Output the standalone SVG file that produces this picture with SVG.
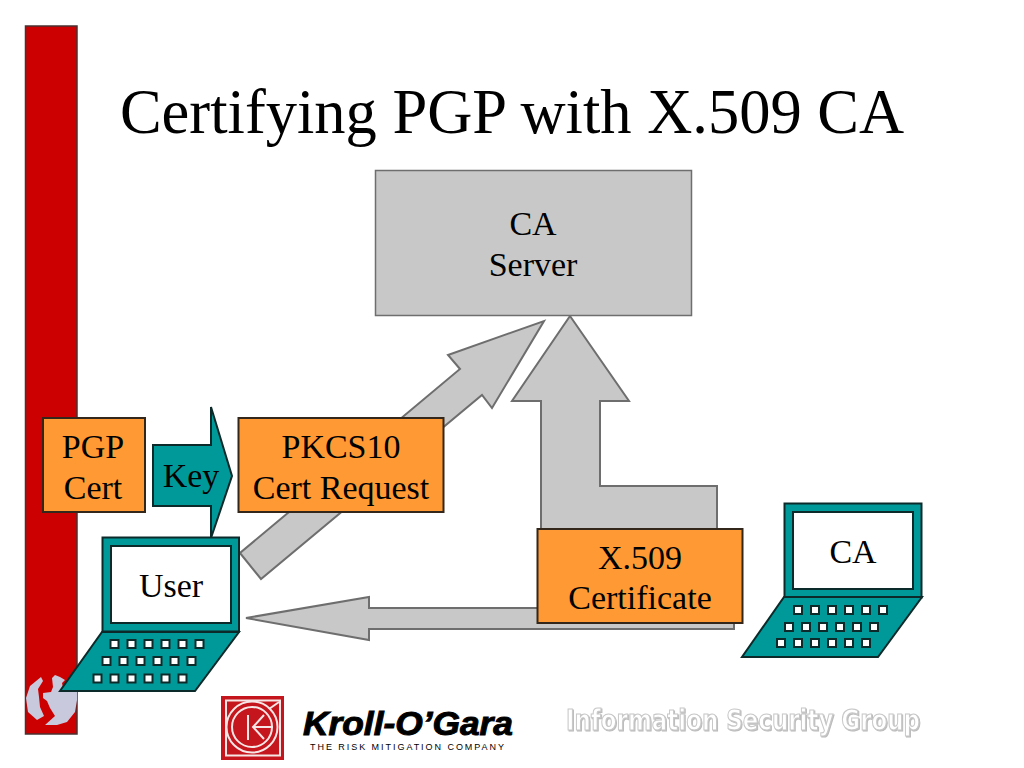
<svg xmlns="http://www.w3.org/2000/svg" width="1024" height="768" viewBox="0 0 1024 768">
<style>
text{font-family:"Liberation Serif","Times New Roman",serif;fill:#000;text-anchor:middle}
.t{font-size:34px}
.title{font-size:62.500px}
.arrow{fill:#c8c8c8;stroke:#6e6e6e;stroke-width:2}
.box{fill:#ff9933;stroke:#33261a;stroke-width:2}
.teal{fill:#009999;stroke:#0d2a2a;stroke-width:2}
.screen{fill:#fff;stroke:#0d2a2a;stroke-width:2}
.key{fill:#fff;stroke:#0d2a2a;stroke-width:2}
.logoline{fill:none;stroke:#f6e6e6;stroke-width:2}
</style>
<defs>
<filter id="emboss" x="-5%" y="-20%" width="110%" height="140%"><feDropShadow dx="1" dy="1" stdDeviation="0.600" flood-color="#bbb"/></filter>
<clipPath id="barclip"><rect x="26" y="660" width="51" height="74"/></clipPath>
<g id="keys">
<rect class="key" x="0" y="0" width="8" height="8"/><rect class="key" x="17" y="0" width="8" height="8"/><rect class="key" x="34" y="0" width="8" height="8"/><rect class="key" x="51" y="0" width="8" height="8"/><rect class="key" x="68" y="0" width="8" height="8"/><rect class="key" x="85" y="0" width="8" height="8"/>
</g>
</defs>
<rect width="1024" height="768" fill="#fff"/>
<g id="sidebar">
<rect x="25.500" y="26" width="51.500" height="708" fill="#cc0000" stroke="#4a3030" stroke-width="1.500"/>
<g clip-path="url(#barclip)" fill="#c9c9de">
<path d="M41 677L30 686L26 698L28 712L37 720L44 716L40 707L39 697L38 689L43 681Z"/>
<path d="M52 678L55 675L60 677L65 680L62 683L63 688L60 691H77V700L75 712L67 722L57 725L45 725L55 716L50 708L47 701L43 698L43 693L51 692L53 687Z"/>
</g>
</g>
<g id="connectors">
<polygon class="arrow" points="240,553 261,579 482,395 492,408 544,321 448,355 460,369"/>
<polygon class="arrow" points="570,316 629,401 600,401 600,486 717,486 717,535 541,535 541,401 512,401"/>
<polygon class="arrow" points="246,618 369,597 369,608 600,608 734,608 734,629 369,629 369,640"/>
</g>
<text id="title" class="title" x="512" y="133">Certifying PGP with X.509 CA</text>
<g id="ca-server">
<rect x="375.500" y="170.500" width="316" height="145" fill="#c8c8c8" stroke="#6e6e6e" stroke-width="1.500"/>
<text class="t" x="533" y="235">CA</text>
<text class="t" x="533" y="276">Server</text>
</g>
<g id="pgp-cert">
<rect class="box" x="43" y="418" width="102" height="94"/>
<text class="t" x="93" y="458">PGP</text>
<text class="t" x="93" y="499">Cert</text>
</g>
<g id="key">
<polygon class="teal" points="153,445 211,445 211,407 232,476 211,538 211,506 153,506"/>
<text class="t" x="191" y="487">Key</text>
</g>
<g id="pkcs10">
<rect class="box" x="238.500" y="418" width="205" height="94"/>
<text class="t" x="341" y="458">PKCS10</text>
<text class="t" x="341" y="499">Cert Request</text>
</g>
<g id="user-laptop">
<rect class="teal" x="102.500" y="537.500" width="136.500" height="94"/>
<rect class="screen" x="111" y="546" width="120" height="77"/>
<polygon class="teal" points="102,632 239,632 195,691 60,691"/>
<use href="#keys" x="110.500" y="640"/>
<use href="#keys" x="102.500" y="657"/>
<use href="#keys" x="93.500" y="674.500"/>
<text class="t" x="171" y="597">User</text>
</g>
<g id="x509">
<rect class="box" x="537.500" y="529" width="205" height="94"/>
<text class="t" x="640" y="569">X.509</text>
<text class="t" x="640" y="609">Certificate</text>
</g>
<g id="ca-laptop">
<rect class="teal" x="784.500" y="503.500" width="137" height="94"/>
<rect class="screen" x="793" y="512" width="120" height="77"/>
<polygon class="teal" points="784,597 922,597 878,657 742,657"/>
<use href="#keys" x="794" y="606"/>
<use href="#keys" x="785" y="623"/>
<use href="#keys" x="777" y="639"/>
<text class="t" x="853" y="563">CA</text>
</g>
<g id="logo">
<rect x="221" y="696" width="63" height="64" fill="#c4161c"/>
<rect class="logoline" x="226" y="700.500" width="54" height="55"/>
<circle class="logoline" cx="252" cy="727" r="25.500"/>
<circle class="logoline" cx="252" cy="727" r="20"/>
<path class="logoline" d="M248 715V740M264 715L253 727L264 739M253 727H273"/>
<path class="logoline" d="M269 709L279 702"/>
<text x="408" y="735" style="font-family:'Liberation Sans',Arial,sans-serif;font-weight:700;font-style:italic;font-size:34px;stroke:#000;stroke-width:1" textLength="210" lengthAdjust="spacingAndGlyphs">Kroll-O’Gara</text>
<text x="407" y="749.500" style="font-family:'Liberation Sans',Arial,sans-serif;font-size:9px" textLength="194">THE RISK MITIGATION COMPANY</text>
</g>
<g id="group-name">
<text x="743" y="730" filter="url(#emboss)" style="font-family:'DejaVu Sans',sans-serif;font-weight:700;font-size:28px;fill:#fff;stroke:#c8c8c8;stroke-width:1.200" textLength="354" lengthAdjust="spacingAndGlyphs">Information Security Group</text>
</g>
</svg>
